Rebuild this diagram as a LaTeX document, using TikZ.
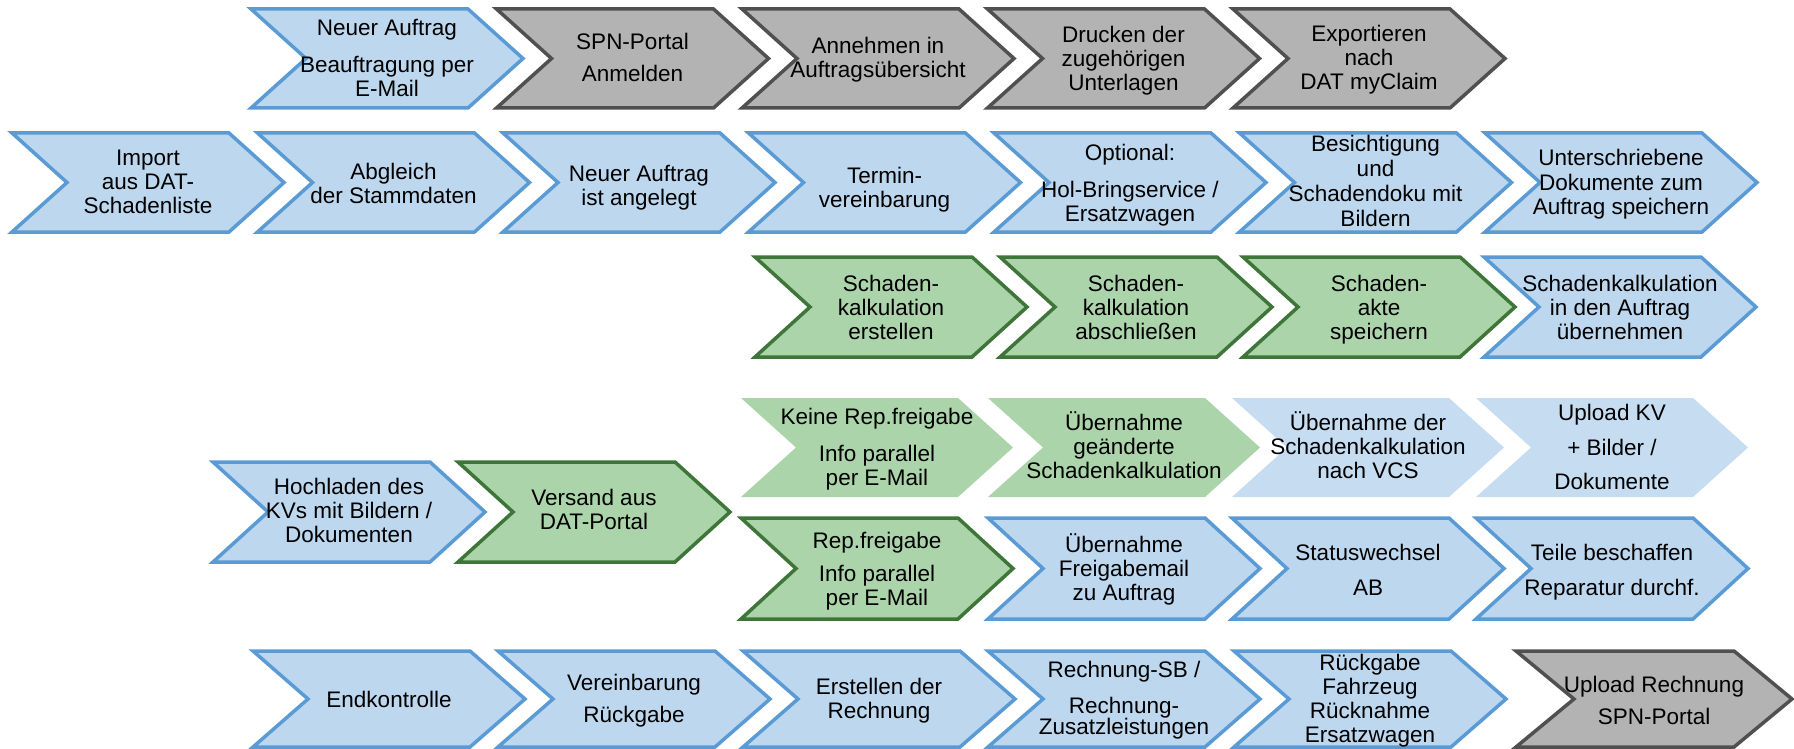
\documentclass[tikz,border=0pt]{standalone}
\usepackage{fontspec}
\setmainfont{Liberation Sans}
\definecolor{bfill}{RGB}{189,215,238}
\definecolor{bfilllt}{RGB}{197,220,241}
\definecolor{bline}{RGB}{91,155,213}
\definecolor{gfill}{RGB}{172,212,170}
\definecolor{gline}{RGB}{62,117,56}
\definecolor{grfill}{RGB}{179,179,179}
\definecolor{grline}{RGB}{80,80,80}
\newcommand\st{\rule[-5pt]{0pt}{24pt}}
\newcommand\chev[9]{%
  \path[#2] (#3,#4) -- ({#3+#6-#7},#4) -- ({#3+#6},{#4+#5/2}) -- ({#3+#6-#7},{#4+#5}) -- (#3,{#4+#5}) -- ({#3+#7},{#4+#5/2}) -- cycle;
  \node[txt] (#1) at ({#3+#6/2},#8) {#9};
}
\tikzset{
  txt/.style={font=\fontsize{22.5}{24}\selectfont, align=center, inner sep=0pt, text=black},
  blue/.style={fill=bfill, draw=bline, line width=3.5pt},
  bluenb/.style={fill=bfilllt},
  green/.style={fill=gfill, draw=gline, line width=3.5pt},
  greennb/.style={fill=gfill},
  gray/.style={fill=grfill, draw=grline, line width=3.5pt}
}
\begin{document}
\begin{tikzpicture}[x=1pt,y=-1pt]
\useasboundingbox (0,0) rectangle (1794,749);
% Row 1
\chev{a1}{blue}{251}{9}{99}{272}{55}{59}{\st Neuer Auftrag\\[13pt]\st Beauftragung per\\\st E-Mail}
\chev{a2}{gray}{496.5}{9}{99}{272}{55}{59}{\st SPN-Portal\\[8pt]\st Anmelden}
\chev{a3}{gray}{742}{9}{99}{272}{55}{59}{\st Annehmen in\\\st Auftragsübersicht}
\chev{a4}{gray}{987.5}{9}{99}{272}{55}{60}{\st Drucken der\\\st zugehörigen\\\st Unterlagen}
\chev{a5}{gray}{1233}{9}{99}{272}{55}{59}{\st Exportieren\\\st nach\\\st DAT myClaim}
% Row 2
\chev{b1}{blue}{12}{133}{99}{272}{55}{182}{\st Import\\\st aus DAT-\\\st Schadenliste}
\chev{b2}{blue}{257.5}{133}{99}{272}{55}{184}{\st Abgleich\\\st der Stammdaten}
\chev{b3}{blue}{503}{133}{99}{272}{55}{186}{\st Neuer Auftrag\\\st ist angelegt}
\chev{b4}{blue}{748.5}{133}{99}{272}{55}{188}{\st Termin-\\\st vereinbarung}
\chev{b5}{blue}{994}{133}{99}{272}{55}{184}{\st Optional:\\[13pt]\st Hol-Bringservice /\\\st Ersatzwagen}
\chev{b6}{blue}{1239.5}{133}{99}{272}{55}{182}{\st Besichtigung\\[1pt]\st und\\[1pt]\st Schadendoku mit\\[1pt]\st Bildern}
\chev{b7}{blue}{1485}{133}{99}{272}{55}{183}{\st Unterschriebene\\\st Dokumente zum\\\st Auftrag speichern}
% Row 3
\chev{c1}{green}{755}{257}{100}{272}{55}{308}{\st Schaden-\\\st kalkulation\\\st erstellen}
\chev{c2}{green}{1000}{257}{100}{272}{55}{308}{\st Schaden-\\\st kalkulation\\\st abschließen}
\chev{c3}{green}{1243}{257}{100}{272}{55}{308}{\st Schaden-\\\st akte\\\st speichern}
\chev{c4}{blue}{1484}{257}{100}{272}{55}{308}{\st Schadenkalkulation\\\st in den Auftrag\\\st übernehmen}
% Row 4a
\chev{d1}{greennb}{741}{398}{99}{272}{55}{448}{\st Keine Rep.freigabe\\[13pt]\st Info parallel\\\st per E-Mail}
\chev{d2}{greennb}{988}{398}{99}{272}{55}{447}{\st Übernahme\\\st geänderte\\\st Schadenkalkulation}
\chev{d3}{bluenb}{1232}{398}{99}{272}{55}{447.5}{\st Übernahme der\\\st Schadenkalkulation\\\st nach VCS}
\chev{d4}{bluenb}{1476}{398}{99}{272}{55}{447.5}{\st Upload KV\\[11pt]\st + Bilder /\\[10pt]\st Dokumente}
% Middle left
\chev{e1}{blue}{213}{462}{100}{272}{55}{511.5}{\st Hochladen des\\\st KVs mit Bildern /\\\st Dokumenten}
\chev{e2}{green}{458}{462}{100}{272}{55}{510.5}{\st Versand aus\\\st DAT-Portal}
% Row 4b
\chev{f1}{green}{741}{518}{101}{272}{55}{570}{\st Rep.freigabe\\[9pt]\st Info parallel\\\st per E-Mail}
\chev{f2}{blue}{988}{518}{101}{272}{55}{569}{\st Übernahme\\\st Freigabemail\\\st zu Auftrag}
\chev{f3}{blue}{1232}{518}{101}{272}{55}{570.5}{\st Statuswechsel\\[11pt]\st AB}
\chev{f4}{blue}{1476}{518}{101}{272}{55}{570.5}{\st Teile beschaffen\\[11pt]\st Reparatur durchf.}
% Row 5
\chev{g1}{blue}{253}{651}{96}{272}{55}{700}{\st Endkontrolle}
\chev{g2}{blue}{498}{651}{96}{272}{55}{699}{\st Vereinbarung\\[8pt]\st Rückgabe}
\chev{g3}{blue}{743}{651}{96}{272}{55}{699}{\st Erstellen der\\\st Rechnung}
\chev{g4}{blue}{988}{651}{96}{272}{55}{698.5}{\st Rechnung-SB /\\[12pt]\st Rechnung-\\[-3pt]\st Zusatzleistungen}
\chev{g5}{blue}{1234}{651}{96}{272}{55}{699}{\st Rückgabe\\\st Fahrzeug\\\st Rücknahme\\\st Ersatzwagen}
\chev{g6}{gray}{1516}{651}{96}{276}{58}{701}{\st Upload Rechnung\\[8pt]\st SPN-Portal}
\end{tikzpicture}
\end{document}
